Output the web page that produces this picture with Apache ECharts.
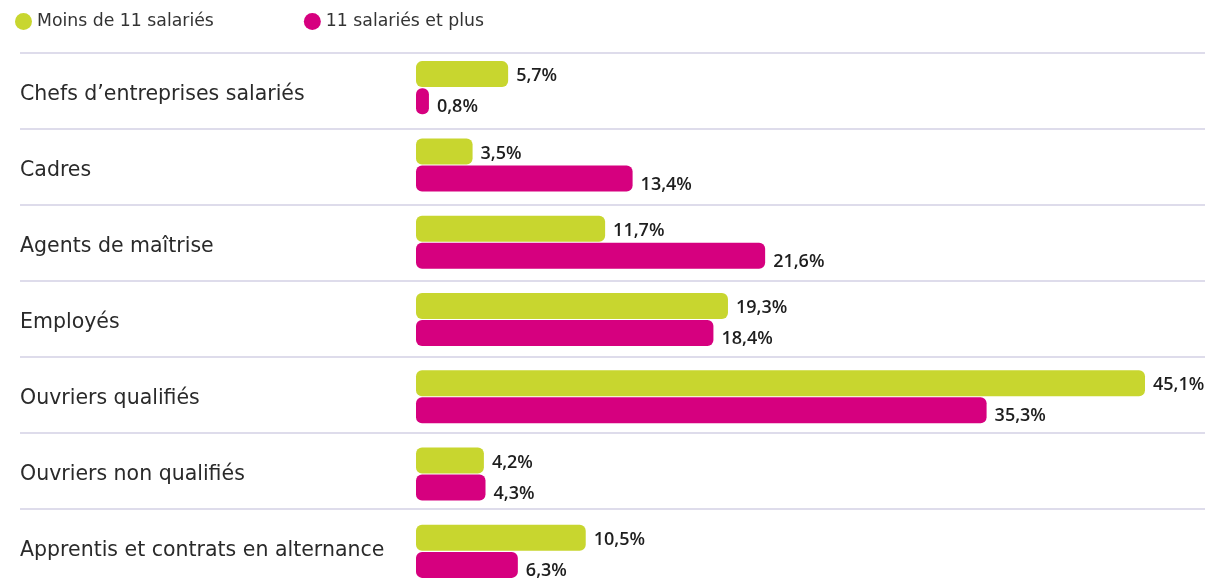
<!DOCTYPE html>
<html>
<head>
<meta charset="utf-8">
<script src="https://cdn.jsdelivr.net/npm/echarts@6/dist/echarts.min.js"></script>
<style>
  html, body { margin: 0; padding: 0; background: #fff; }
  #chart { width: 1205px; height: 581px; }
</style>
</head>
<body>
<div id="chart"></div>
<script>
  // categories (top to bottom)
  let categories = [
    'Chefs d’entreprises salariés',
    'Cadres',
    'Agents de maîtrise',
    'Employés',
    'Ouvriers qualifiés',
    'Ouvriers non qualifiés',
    'Apprentis et contrats en alternance'
  ]
  let seriesNames = ['Moins de 11 salariés', '11 salariés et plus']
  let moinsDe11 = [5.7, 3.5, 11.7, 19.3, 45.1, 4.2, 10.5]
  let onzeEtPlus = [0.8, 13.4, 21.6, 18.4, 35.3, 4.3, 6.3]

  let green = '#c8d62f'
  let magenta = '#d6007f'
  let textFont = 'DejaVu Sans'
  let numFont = 'Open Sans'

  let fmt = (p) => String(p.value).replace('.', ',') + '%'

  let valueLabel = (dy) => ({
    show: true,
    position: 'right',
    distance: 8,
    offset: [0, dy],
    formatter: fmt,
    color: '#1e1e1e',
    fontSize: 18,
    fontWeight: 600,
    fontFamily: numFont
  })

  let ch = echarts.init(document.getElementById('chart'))
  let option = {
    animation: false,
    legend: {
      data: seriesNames,
      left: 15,
      top: 13,
      padding: 0,
      icon: 'circle',
      itemWidth: 17,
      itemHeight: 17,
      itemGap: 90,
      textStyle: { color: '#333', fontSize: 17.3, fontFamily: textFont }
    },
    grid: [
      // row separators
      { left: 20, right: 0, top: 53, height: 532, outerBoundsMode: 'none' },
      // bars
      { left: 416, right: 60, top: 49, height: 541, outerBoundsMode: 'none' },
      // category labels
      { left: 20, right: 0, top: 57, height: 532, outerBoundsMode: 'none' }
    ],
    xAxis: [
      { gridIndex: 0, type: 'value', show: false, min: 0, max: 1 },
      { gridIndex: 1, type: 'value', show: false, min: 0, max: 45.1 },
      { gridIndex: 2, type: 'value', show: false, min: 0, max: 1 }
    ],
    yAxis: [
      {
        gridIndex: 0,
        type: 'category',
        data: categories,
        inverse: true,
        axisLine: { show: false },
        axisTick: { show: false },
        axisLabel: { show: false },
        splitLine: { show: true, lineStyle: { color: '#d3d1e4', width: 1.5 } }
      },
      {
        gridIndex: 1,
        type: 'category',
        data: categories,
        inverse: true,
        show: false
      },
      {
        gridIndex: 2,
        type: 'category',
        data: categories,
        inverse: true,
        axisLine: { show: false },
        axisTick: { show: false },
        splitLine: { show: false },
        axisLabel: {
          inside: true,
          margin: 0,
          color: '#2a2a2a',
          fontSize: 20.5,
          fontFamily: textFont
        }
      }
    ],
    series: [
      {
        name: seriesNames[0],
        type: 'bar',
        xAxisIndex: 1,
        yAxisIndex: 1,
        data: moinsDe11,
        color: green,
        barWidth: 26,
        barGap: '4%',
        itemStyle: { borderRadius: 6 },
        label: valueLabel(2)
      },
      {
        name: seriesNames[1],
        type: 'bar',
        xAxisIndex: 1,
        yAxisIndex: 1,
        data: onzeEtPlus,
        color: magenta,
        barWidth: 26,
        barGap: '4%',
        itemStyle: { borderRadius: 6 },
        label: valueLabel(6)
      }
    ]
  }
  ch.setOption(option)
</script>
</body>
</html>
